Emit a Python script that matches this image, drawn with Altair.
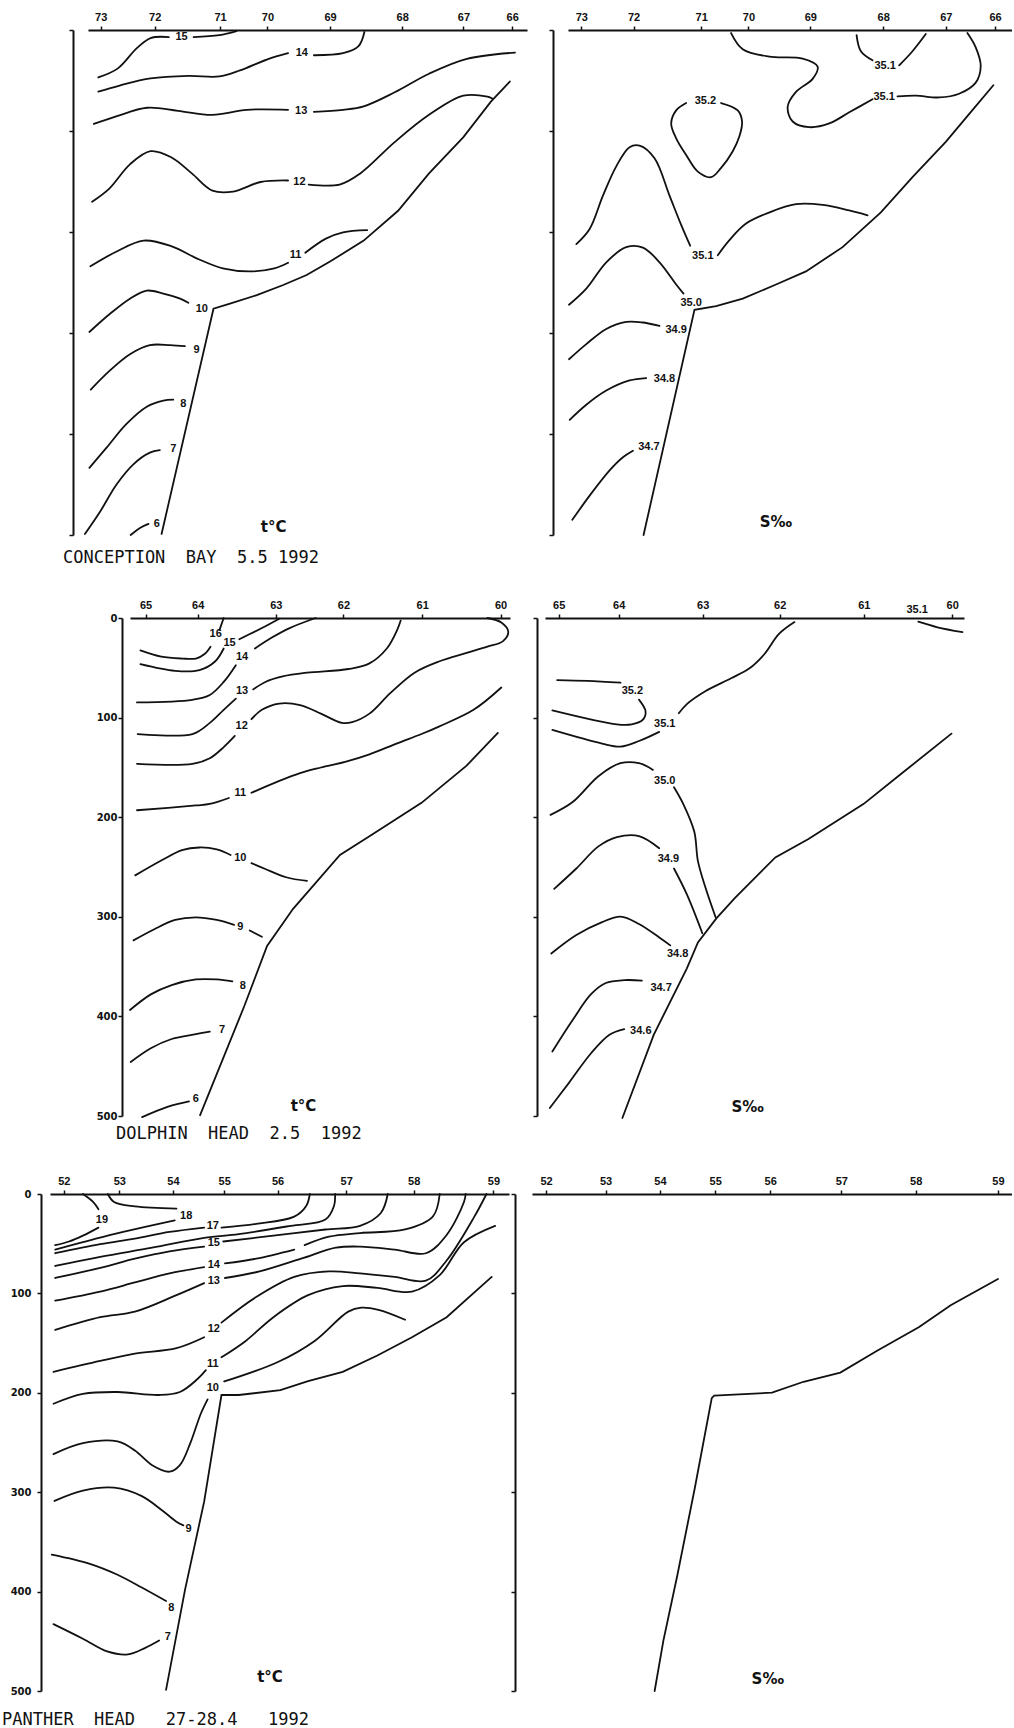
import altair as alt
import pandas as pd

# ---------------- Panel 1 : Conception Bay, temperature ----------------
P1_ST_POS = [3.7, 19.4, 38.4, 52.2, 70.4, 91.4, 109.2, 123.4]
P1_ST_LAB = ["73", "72", "71", "70", "69", "68", "67", "66"]
P1_T15a = [(3.0, 47), (8.7, 38), (14.2, 18), (18.2, 8), (23.5, 7)]
P1_T15b = [(30.7, 7), (38.2, 5), (43.2, 1)]
P1_T14a = [(3.0, 61), (9.2, 55), (18.2, 48), (29.2, 45.5), (38.2, 46), (44.2, 40), (52.2, 29), (58.2, 23)]
P1_T14b = [(65.7, 25), (74.2, 23), (78.7, 16), (80.4, 2)]
P1_T13a = [(1.7, 93), (8.2, 85.5), (17.2, 77), (26.2, 80), (36.2, 84), (46.2, 79), (58.2, 79)]
P1_T13b = [(65.7, 81), (74.2, 79), (80.2, 75.6), (89.2, 61.7), (99.2, 43.3), (110.2, 28.6), (124.2, 22.4)]
P1_T12a = [(1.2, 170), (6.2, 157), (12.2, 133), (18.2, 120), (24.2, 126), (30.2, 142), (36.2, 159), (42.2, 160), (50.2, 150.5), (58.2, 149)]
P1_T12b = [(64.2, 153), (73.2, 153), (79.2, 142), (89.2, 111), (99.2, 84), (109.2, 65), (116.2, 66), (117.7, 68)]
P1_T11a = [(0.7, 234), (8.2, 219.5), (16.2, 208.5), (24.2, 214), (32.2, 227), (39.2, 236), (47.2, 239), (54.2, 236), (58.2, 230.5)]
P1_T11b = [(63.2, 220.6), (69.2, 206.6), (74.2, 200.4), (81.2, 198.2)]
P1_T10 = [(0.4, 299), (6.4, 281), (12.2, 266), (17.1, 258), (21.9, 261), (26.8, 266), (29.2, 270)]
P1_T9 = [(0.8, 356), (6.4, 337), (12.2, 321), (18.0, 312), (23.9, 312), (28.2, 313)]
P1_T8 = [(0.4, 433.5), (5.4, 413.5), (11.2, 390), (17.1, 373), (21.9, 367), (24.8, 366)]
P1_T7 = [(-0.9, 499), (3.5, 477), (8.3, 450), (13.2, 430), (18.0, 418.5), (20.9, 416)]
P1_T6 = [(12.4, 500), (15.1, 493), (17.6, 489)]
P1_BOTTOM = [(21.4, 499), (36.5, 276), (41.3, 271), (49.1, 262.5), (56.8, 252.5), (63.6, 242.6), (70.4, 229.3),
             (80.2, 208.5), (90.2, 179), (99.2, 142), (109.2, 106), (117.2, 71), (122.7, 51)]
P1_LABELS = [("15", 27.2, 7), ("14", 62.2, 23), ("13", 62.0, 80), ("12", 61.5, 150), ("11", 60.4, 223),
             ("10", 33.1, 276), ("9", 31.6, 317), ("8", 27.7, 370), ("7", 24.8, 415), ("6", 20.0, 489)]
P1_NOTE = ("t°C", 54.0, 492)

# ---------------- Panel 2 : Conception Bay, salinity ----------------
P2_ST_POS = [4.0, 19.7, 40.0, 54.2, 72.8, 94.7, 113.5, 128.3]
P2_ST_LAB = ["73", "72", "71", "70", "69", "68", "67", "66"]
P2_S351a = [(49.0, 3), (52.5, 19), (60.5, 26.4), (70.5, 28.3), (75.0, 36.3), (73.5, 48.4), (68.5, 61.3), (66.0, 76),
            (67.5, 90.6), (72.5, 96.2), (78.5, 92.5), (84.5, 81.5), (91.5, 68.6)]
P2_S351b = [(99.0, 65.7), (104.5, 65), (111.5, 66.8), (117.5, 63.1), (122.5, 52.1), (124.0, 35.6), (122.5, 17.2), (120.0, 3)]
P2_S351c = [(86.7, 5), (88.0, 21), (91.5, 30)]
P2_S351d = [(99.5, 35), (103.5, 21), (107.5, 4)]
P2_S352 = [(46.0, 72.3), (51.0, 79.6), (52.3, 90.6), (51.5, 105.3), (49.5, 120), (46.0, 136.5), (43.0, 145.7),
           (39.0, 140.2), (35.5, 123.7), (32.5, 107.2), (31.0, 92.5), (32.5, 79.6), (35.5, 72.3)]
P2_S351e = [(2.5, 212), (6.5, 197), (10.5, 164), (14.5, 135), (18.5, 116), (21.5, 114.5), (26.0, 127), (30.5, 164),
            (34.0, 193), (36.7, 213.6)]
P2_S351f = [(45.0, 223), (48.5, 208), (53.5, 191.6), (60.5, 180.6), (68.5, 172.5), (76.5, 173.2), (84.5, 178.7), (90.0, 183.5)]
P2_S350 = [(0.3, 272), (5.5, 256), (11.5, 230), (17.5, 215), (22.5, 215.4), (27.5, 230), (32.5, 252), (34.7, 261)]
P2_S349 = [(0.3, 326), (5.5, 311), (11.5, 296), (17.5, 289), (22.5, 289.6), (27.5, 293)]
P2_S348 = [(0.5, 386), (5.5, 371), (11.5, 357), (18.5, 347), (23.5, 344.6)]
P2_S347 = [(1.3, 485), (6.5, 461), (12.5, 436), (16.5, 423), (19.5, 416.5)]
P2_BOTTOM = [(22.7, 500), (38.0, 277), (44.5, 273.4), (52.5, 266), (62.5, 252), (71.5, 239), (82.5, 215),
             (94.0, 180.6), (103.5, 145.7), (113.5, 110.8), (120.5, 83.3), (127.8, 54.7)]
P2_LABELS = [("35.1", 95.3, 35.6), ("35.1", 95.0, 66), ("35.2", 41.3, 70.5), ("35.1", 40.5, 223.5),
             ("35.0", 37.0, 270), ("34.9", 32.5, 297), ("34.8", 29.0, 346), ("34.7", 24.3, 412.5)]
P2_NOTE = ("S‰", 62.5, 487)

# ---------------- Panel 3 : Dolphin Head, temperature ----------------
P3_ST_POS = [4.5, 19.5, 42.0, 61.5, 84.2, 106.8]
P3_ST_LAB = ["65", "64", "63", "62", "61", "60"]
P3_T16a = [(27.0, 0), (25.8, 11.9)]
P3_T16b = [(23.2, 28.8), (21.5, 36.2), (19.0, 40.7), (15.0, 40.7), (9.0, 38.8), (3.0, 32.5)]
P3_T15a = [(43.0, 0.7), (38.0, 10.1), (31.5, 21.3)]
P3_T15b = [(27.0, 30.6), (24.5, 43.7), (20.0, 52.3), (13.0, 53.0), (3.0, 46.3)]
P3_T14a = [(53.5, 0), (46.0, 10.1), (41.0, 19.4), (36.0, 30.6)]
P3_T14b = [(30.5, 47.4), (27.0, 64.2), (23.0, 77.3), (18.0, 82.1), (2.0, 84.8)]
P3_T13a = [(78.0, 2.6), (77.0, 11.9), (74.0, 30.6), (69.0, 45.6), (63.0, 51.2), (51.0, 54.9), (44.0, 58.6), (39.0, 64.2), (35.5, 71.7)]
P3_T13b = [(30.5, 81.0), (27.0, 92.2), (23.0, 105.3), (18.0, 116.5), (2.2, 116.5)]
P3_T12a = [(103.0, 0), (107.0, 4.5), (109.0, 13.8), (107.5, 23.2), (103.0, 28.8), (97.0, 35.1), (89.0, 43.7),
           (82.0, 54.9), (75.0, 75.4), (69.0, 96.0), (64.0, 104.6), (61.0, 105.3), (55.0, 96.0), (49.0, 87.4),
           (43.0, 85.9), (38.0, 92.2), (35.0, 101.6)]
P3_T12b = [(30.2, 118.4), (27.0, 129.6), (23.0, 140.8), (18.0, 146.4), (2.0, 146.4)]
P3_T11a = [(107.0, 69.8), (99.0, 92.2), (89.0, 109.0), (84.0, 116.5), (77.0, 125.8), (69.0, 137.0), (62.0, 144.5),
           (55.0, 150.1), (49.0, 155.7), (42.0, 165.0), (35.0, 175.5)]
P3_T11b = [(28.5, 180.7), (23.0, 186.7), (19.0, 188.2), (2.0, 193.0)]
P3_T10a = [(29.0, 237.9), (25.0, 232.3), (20.0, 230.4), (15.0, 233.0), (9.0, 243.5), (1.5, 258.4)]
P3_T10b = [(35.0, 246.1), (39.0, 252.0), (45.0, 260.3), (51.0, 264.0)]
P3_T9a = [(30.0, 308.1), (25.0, 303.2), (19.0, 300.6), (13.0, 303.2), (7.0, 312.5), (1.0, 323.7)]
P3_T9b = [(34.5, 313.7), (38.0, 320.0)]
P3_T8 = [(29.5, 364.8), (25.0, 362.9), (19.0, 362.9), (12.0, 368.5), (6.0, 377.9), (0.0, 393.6)]
P3_T7 = [(23.0, 415.2), (19.0, 417.8), (12.0, 422.7), (6.0, 432.0), (0.2, 445.8)]
P3_T6 = [(17.0, 485.4), (11.0, 490.6), (3.5, 501.1)]
P3_BOTTOM = [(20.2, 499.2), (33.0, 389.1), (39.5, 329.3), (47.0, 292.0), (60.5, 237.9), (69.0, 219.2),
             (84.0, 185.6), (97.0, 148.2), (106.0, 115.4)]
P3_LABELS = [("16", 24.7, 16.4), ("15", 28.7, 24.6), ("14", 32.3, 38.8), ("13", 32.3, 73.6), ("12", 32.2, 108.3),
             ("11", 31.8, 176.2), ("10", 31.8, 240.5), ("9", 31.8, 310), ("8", 32.5, 369.8), ("7", 26.5, 414.1),
             ("6", 19.0, 482.6)]
P3_NOTE = ("t°C", 50.0, 490)

# ---------------- Panel 4 : Dolphin Head, salinity ----------------
P4_ST_POS = [3.7, 20.0, 42.8, 63.7, 86.5, 110.5]
P4_ST_LAB = ["65", "64", "63", "62", "61", "60"]
P4_S351a = [(101.3, 3.7), (106.5, 9.3), (113.3, 14.1)]
P4_S351b = [(67.7, 4.1), (63.5, 16.0), (59.5, 36.4), (55.5, 50.5), (50.5, 60.5), (43.5, 73.5), (38.5, 86.4), (36.3, 95.7)]
P4_S351c = [(31.0, 114.3), (25.5, 123.5), (20.5, 129.1), (15.5, 126.1), (2.0, 112.4)]
P4_S352a = [(3.3, 62.3), (11.5, 63.1), (20.5, 64.9)]
P4_S352b = [(25.5, 82.0), (27.3, 93.9), (26.5, 102.4), (23.5, 106.8), (19.5, 106.8), (2.0, 92.8)]
P4_S350a = [(1.5, 197.7), (7.5, 184.8), (14.5, 158.8), (20.5, 145.8), (25.5, 145.8), (29.3, 152.5)]
P4_S350b = [(35.0, 169.9), (37.5, 186.6), (40.5, 214.4), (41.5, 244.1), (43.5, 270.1), (46.3, 300.5)]
P4_S349a = [(2.5, 271.9), (8.5, 251.5), (14.5, 229.3), (19.5, 220.0), (25.5, 218.9), (31.0, 231.1)]
P4_S349b = [(35.0, 251.5), (38.5, 277.5), (42.7, 316.5)]
P4_S348 = [(1.7, 336.9), (8.5, 318.3), (15.5, 305.3), (20.5, 299.8), (25.5, 307.2), (31.5, 322.0), (34.0, 328.7)]
P4_S347 = [(2.0, 435.2), (7.5, 403.6), (12.5, 377.7), (16.5, 366.5), (21.5, 363.6), (26.3, 364.0)]
P4_S346 = [(1.3, 492.0), (6.5, 466.7), (12.5, 437.0), (17.5, 418.5), (21.5, 412.9)]
P4_BOTTOM = [(21.0, 502.0), (29.5, 418.5), (38.5, 351.7), (41.5, 325.7), (46.5, 301.6), (51.5, 281.2),
             (62.5, 240.4), (71.5, 221.9), (86.5, 186.6), (96.5, 156.9), (110.3, 116.1)]
P4_LABELS = [("35.1", 101.0, -8.2), ("35.1", 32.5, 106.5), ("35.2", 23.7, 73.5), ("35.0", 32.5, 163.6),
             ("34.9", 33.5, 242.2), ("34.8", 36.0, 336.9), ("34.7", 31.5, 371.0), ("34.6", 26.0, 414.8)]
P4_NOTE = ("S‰", 55.0, 490.8)

# ---------------- Panel 5 : Panther Head, temperature ----------------
P5_ST_POS = [4.0, 20.0, 35.5, 50.3, 65.7, 85.5, 105.0, 128.0]
P5_ST_LAB = ["52", "53", "54", "55", "56", "57", "58", "59"]
P5_T19a = [(9.5, 0), (12.5, 8.1), (14.0, 15.4)]
P5_T19b = [(14.0, 33.8), (9.5, 41.9), (5.5, 47.8), (1.5, 51.5)]
P5_T18a = [(16.7, 0), (18.5, 8.1), (24.5, 12.5), (36.5, 14.7)]
P5_T18b = [(36.0, 26.5), (26.5, 33.8), (17.5, 41.2), (9.5, 48.5), (1.5, 55.9)]
P5_T17a = [(49.5, 33.8), (59.5, 30.1), (70.5, 22.8), (74.0, 11.8), (75.0, 0)]
P5_T17b = [(44.5, 33.8), (34.5, 38.2), (24.5, 44.8), (14.5, 50.4), (1.5, 59.6)]
P5_T16 = [(1.5, 72.4), (14.5, 63.2), (29.5, 54.0), (44.5, 44.1), (54.5, 40.4), (69.5, 32.0), (79.5, 25.7), (82.0, 11.8), (82.3, 0)]
P5_T15a = [(50.0, 47.8), (64.5, 41.9), (79.5, 35.7), (89.5, 32.0), (95.5, 19.1), (97.5, 0)]
P5_T15b = [(44.5, 52.9), (34.5, 57.7), (24.5, 65.1), (14.5, 74.3), (1.5, 84.5)]
P5_T14a = [(50.5, 69.8), (59.5, 65.1), (70.5, 55.9)]
P5_T14b = [(73.5, 51.5), (80.5, 43.0), (89.5, 39.3), (102.5, 35.7), (110.5, 22.8), (112.5, 0)]
P5_T14c = [(44.5, 73.5), (34.5, 79.8), (24.5, 89.0), (14.5, 98.2), (1.5, 107.3)]
P5_T13a = [(50.5, 84.5), (60.5, 77.9), (72.5, 65.1), (82.5, 54.0), (89.5, 52.9), (99.5, 55.9), (108.5, 59.6),
           (114.5, 41.2), (119.5, 8.1), (120.0, 0)]
P5_T13b = [(44.5, 89.7), (36.5, 101.8), (24.5, 118.4), (14.5, 123.9), (1.5, 136.7)]
P5_T12a = [(49.5, 129.4), (59.5, 103.7), (70.5, 83.4), (80.5, 77.9), (89.5, 79.8), (99.5, 83.4), (108.5, 87.1),
           (114.5, 66.9), (122.5, 22.8), (126.0, 0)]
P5_T12b = [(44.5, 144.1), (36.5, 155.1), (24.5, 160.6), (14.5, 168.0), (1.0, 179.0)]
P5_T11a = [(49.5, 164.3), (56.5, 147.8), (64.5, 123.9), (74.5, 101.8), (84.5, 92.6), (94.5, 94.5), (104.5, 98.2),
           (112.5, 81.6), (119.5, 48.5), (128.5, 32.0)]
P5_T11b = [(45.0, 177.2), (42.5, 186.4), (37.5, 199.2), (31.5, 202.2), (19.5, 199.2), (9.5, 201.1), (1.0, 211.0)]
P5_T10a = [(50.3, 188.6), (65.8, 169.0), (76.4, 147.8), (86.1, 118.3), (89.9, 114.4), (94.8, 116.6), (102.5, 126.5)]
P5_T10b = [(45.5, 206.6), (43.5, 221.3), (40.5, 250.7), (37.5, 272.8), (34.5, 279.4), (29.5, 272.8), (24.5, 258.0),
           (19.5, 248.9), (9.5, 250.7), (1.0, 261.7)]
P5_T9 = [(1.3, 308.8), (9.5, 298.5), (18.5, 295.5), (26.5, 304.0), (32.5, 318.7), (36.5, 329.7), (38.5, 333.4)]
P5_T8 = [(0.5, 362.8), (11.5, 372.0), (19.5, 383.0), (26.5, 395.9), (33.5, 409.5)]
P5_T7 = [(1.0, 432.7), (9.5, 447.4), (16.5, 460.2), (22.5, 463.2), (27.5, 456.6), (31.5, 449.2)]
P5_BOTTOM = [(33.5, 498.8), (39.0, 397.7), (44.5, 309.5), (49.5, 202.2), (54.5, 202.2), (66.5, 197.4), (74.5, 188.2),
             (84.5, 179.0), (94.5, 162.5), (104.5, 144.1), (114.5, 123.9), (127.5, 83.4)]
P5_LABELS = [("19", 15.0, 25.7), ("18", 39.3, 22.0), ("17", 47.0, 32.0), ("15", 47.3, 49.6), ("14", 47.3, 71.3),
             ("13", 47.3, 87.1), ("12", 47.3, 135.6), ("11", 47.0, 170.6), ("10", 47.0, 195.0), ("9", 40.0, 337.1),
             ("8", 35.0, 416.1), ("7", 34.0, 445.5)]
P5_NOTE = ("t°C", 63.5, 486)

# ---------------- Panel 6 : Panther Head, salinity (bottom only) ----------------
P6_ST_POS = [4.0, 21.0, 36.5, 52.3, 68.0, 88.3, 109.5, 133.0]
P6_ST_LAB = ["52", "53", "54", "55", "56", "57", "58", "59"]
P6_BOTTOM = [(35.0, 500), (37.5, 449.3), (41.5, 383.3), (46.5, 295.3), (51.3, 205.4), (52.0, 202.8), (68.5, 199.9),
             (77.5, 188.9), (88.0, 179.7), (98.5, 157.7), (110.5, 133.9), (119.5, 111.9), (133.0, 85.5)]
P6_NOTE = ("S‰", 67.3, 488)

TITLES = ["CONCEPTION\u00a0\u00a0BAY\u00a0\u00a05.5\u00a01992",
          "DOLPHIN\u00a0\u00a0HEAD\u00a0\u00a02.5\u00a0\u00a01992",
          "PANTHER\u00a0\u00a0HEAD\u00a0\u00a0\u00a027-28.4\u00a0\u00a0\u00a01992"]
DEPTH_TICKS = [0, 100, 200, 300, 400, 500]
INK = "#111111"


def build(segs, bottom, labels, note):
    rows = []
    for k, seg in enumerate(segs):
        for i, (x, d) in enumerate(seg):
            rows.append(dict(kind="c", seg="c%d" % k, i=i, x=x, d=d, t=""))
    for i, (x, d) in enumerate(bottom):
        rows.append(dict(kind="b", seg="b", i=i, x=x, d=d, t=""))
    for (t, x, d) in labels:
        rows.append(dict(kind="l", seg="l", i=0, x=x, d=d, t=t))
    t, x, d = note
    rows.append(dict(kind="n", seg="n", i=0, x=x, d=d, t=t))
    return pd.DataFrame(rows)


def panel(df, xmax, width, height, st_pos, st_lab, yoff, depth_labels, lpad=2, title=None, tdx=0, toff=10):
    pos_js = "[" + ",".join(repr(v) for v in st_pos) + "]"
    lab_js = "[" + ",".join("'%s'" % s for s in st_lab) + "]"
    X = alt.X("x:Q", scale=alt.Scale(domain=[0, xmax], nice=False, zero=False),
              axis=alt.Axis(orient="top", values=st_pos, labelExpr=f"{lab_js}[indexof({pos_js}, datum.value)]",
                            title=None, grid=False, domainColor=INK, domainWidth=2, tickColor=INK,
                            tickWidth=1.5, tickSize=4, labelFont="Liberation Sans", labelFontSize=11,
                            labelFontWeight="bold", labelColor=INK, labelPadding=4, labelFlush=False,
                            labelOverlap=False, labelBound=False))
    Y = alt.Y("d:Q", scale=alt.Scale(domain=[0, 500], reverse=True, nice=False, zero=False),
              axis=alt.Axis(orient="left", values=DEPTH_TICKS, offset=yoff, title=None, grid=False,
                            domainColor=INK, domainWidth=2, tickColor=INK, tickWidth=1.5, tickSize=4,
                            labels=depth_labels, labelFont="DejaVu Sans", labelFontSize=10,
                            labelFontWeight="bold", labelColor=INK, labelPadding=lpad))
    base = alt.Chart(df).encode(x=X, y=Y)
    lines = base.transform_filter("datum.kind == 'c'").mark_line(
        interpolate="catmull-rom", color=INK, strokeWidth=1.8, strokeCap="round").encode(
        detail="seg:N", order="i:Q")
    bottom = base.transform_filter("datum.kind == 'b'").mark_line(
        color=INK, strokeWidth=1.8, strokeCap="round").encode(order="i:Q")
    labs = base.transform_filter("datum.kind == 'l'").mark_text(
        font="Liberation Sans", fontSize=11, fontWeight="bold", color=INK).encode(text="t:N")
    note = base.transform_filter("datum.kind == 'n'").mark_text(
        font="DejaVu Sans", fontSize=15, fontWeight="bold", color=INK).encode(text="t:N")
    ch = alt.layer(lines, bottom, labs, note).properties(width=width, height=height)
    if title:
        ch = ch.properties(title=alt.TitleParams(title, orient="bottom", anchor="start", frame="group",
                                                 offset=toff, dx=tdx, font="DejaVu Sans Mono", fontSize=17,
                                                 fontWeight="normal", color=INK))
    return ch


def spacer(w):
    # invisible block that fixes the left margin of a row
    return alt.Chart(pd.DataFrame({"a": [0]})).mark_rect(opacity=0).encode(
        x=alt.value(0), x2=alt.value(w), y=alt.value(0), y2=alt.value(10)).properties(width=w, height=10)


df1 = build([P1_T15a, P1_T15b, P1_T14a, P1_T14b, P1_T13a, P1_T13b, P1_T12a, P1_T12b, P1_T11a, P1_T11b,
             P1_T10, P1_T9, P1_T8, P1_T7, P1_T6], P1_BOTTOM, P1_LABELS, P1_NOTE)
df2 = build([P2_S351a, P2_S351b, P2_S351c, P2_S351d, P2_S352, P2_S351e, P2_S351f, P2_S350, P2_S349, P2_S348,
             P2_S347], P2_BOTTOM, P2_LABELS, P2_NOTE)
df3 = build([P3_T16a, P3_T16b, P3_T15a, P3_T15b, P3_T14a, P3_T14b, P3_T13a, P3_T13b, P3_T12a, P3_T12b,
             P3_T11a, P3_T11b, P3_T10a, P3_T10b, P3_T9a, P3_T9b, P3_T8, P3_T7, P3_T6], P3_BOTTOM, P3_LABELS, P3_NOTE)
df4 = build([P4_S351a, P4_S351b, P4_S351c, P4_S352a, P4_S352b, P4_S350a, P4_S350b, P4_S349a, P4_S349b,
             P4_S348, P4_S347, P4_S346], P4_BOTTOM, P4_LABELS, P4_NOTE)
df5 = build([P5_T19a, P5_T19b, P5_T18a, P5_T18b, P5_T17a, P5_T17b, P5_T16, P5_T15a, P5_T15b, P5_T14a, P5_T14b,
             P5_T14c, P5_T13a, P5_T13b, P5_T12a, P5_T12b, P5_T11a, P5_T11b, P5_T10a, P5_T10b, P5_T9, P5_T8, P5_T7],
            P5_BOTTOM, P5_LABELS, P5_NOTE)
df6 = build([], P6_BOTTOM, [], P6_NOTE)

p1 = panel(df1, 127.7, 439, 505, P1_ST_POS, P1_ST_LAB, 15, False, title=TITLES[0], tdx=-25, toff=11)
p2 = panel(df2, 133.4, 444, 505, P2_ST_POS, P2_ST_LAB, 15, False)
p3 = panel(df3, 109.5, 380, 498, P3_ST_POS, P3_ST_LAB, 8, True, lpad=1, title=TITLES[1], tdx=-14, toff=5)
p4 = panel(df4, 113.7, 419, 498, P4_ST_POS, P4_ST_LAB, 8, False)
p5 = panel(df5, 132.5, 459, 497, P5_ST_POS, P5_ST_LAB, 9, True, lpad=6, title=TITLES[2], tdx=-48, toff=16)
p6 = panel(df6, 137.0, 480, 497, P6_ST_POS, P6_ST_LAB, 17, False)

row1 = alt.hconcat(spacer(47), p1, p2, spacing=41, bounds="flush")
row2 = alt.hconcat(spacer(95), p3, p4, spacing=35, bounds="flush")
row3 = alt.hconcat(spacer(27), p5, p6, spacing=23, bounds="flush")

chart = alt.vconcat(row1, row2, row3, spacing=33, bounds="full").properties(
    padding={"left": 0, "top": 11, "right": 0, "bottom": 0}
).configure_view(stroke=None)

chart.save("out.html", embed_options={"renderer": "svg", "actions": False})
